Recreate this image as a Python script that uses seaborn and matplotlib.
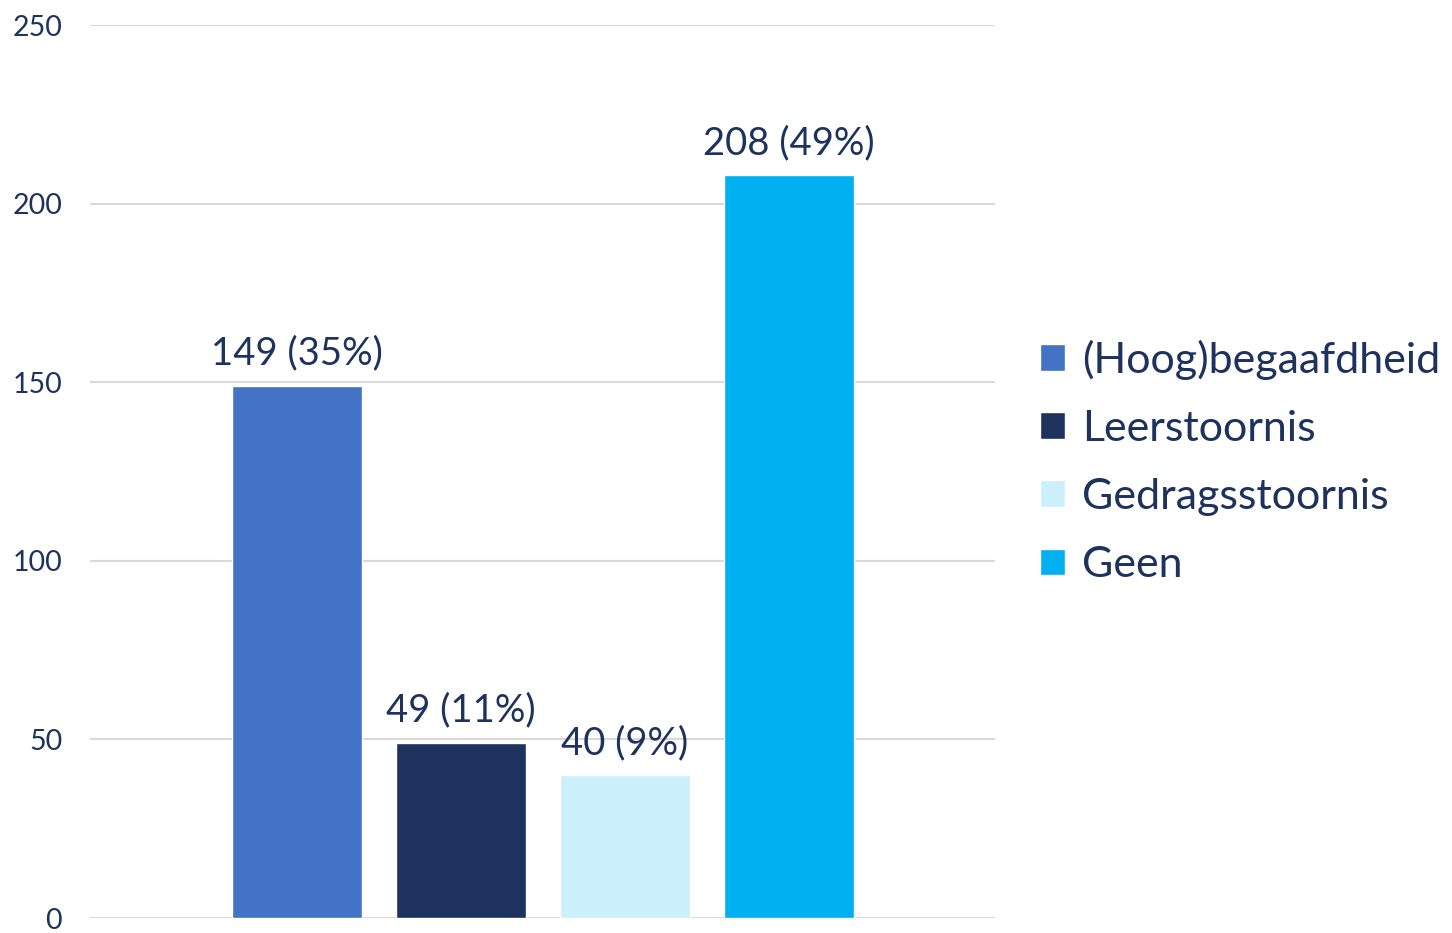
import pandas as pd
import matplotlib.pyplot as plt
import seaborn as sns
from matplotlib.patches import Patch

categorieen = ['(Hoog)begaafdheid', 'Leerstoornis', 'Gedragsstoornis', 'Geen']
aantallen = [149, 49, 40, 208]
percentages = ['35%', '11%', '9%', '49%']
kleuren = ['#4472C4', '#1E325E', '#CCEFFC', '#00B0F0']
tekstkleur = '#1E325E'

df = pd.DataFrame({'Categorie': categorieen, 'Aantal': aantallen})

sns.set_style('white')
plt.rcParams['font.family'] = ['Lato', 'DejaVu Sans']

fig = plt.figure(figsize=(14.52, 9.33), dpi=100)
ax = fig.add_axes([0.062, 0.016, 0.623, 0.957])

sns.barplot(data=df, x='Categorie', y='Aantal', hue='Categorie',
            palette=kleuren, dodge=False, width=0.793, ax=ax,
            legend=False, saturation=1)

for i, (n, p) in enumerate(zip(aantallen, percentages)):
    ax.text(i, n + 4, f'{n} ({p})', ha='center', va='bottom',
            fontsize=27.5, color=tekstkleur)

ax.set_ylim(0, 250)
ax.set_xlim(-1.262, 4.256)
ax.set_yticks(range(0, 251, 50))
ax.grid(axis='y', color='#D9D9D9', linewidth=1.5)
ax.set_axisbelow(True)
ax.set_xticks([])
ax.set_xlabel('')
ax.set_ylabel('')
ax.tick_params(axis='y', labelsize=20.5, labelcolor=tekstkleur, length=0, pad=20)
for s in ax.spines.values():
    s.set_visible(False)

handles = [Patch(facecolor=k, label=c) for k, c in zip(kleuren, categorieen)]
fig.legend(handles=handles, loc='center left', bbox_to_anchor=(0.716, 0.505),
           frameon=False, fontsize=31, labelcolor=tekstkleur,
           handlelength=0.58, handleheight=0.58, handletextpad=0.4,
           labelspacing=0.7, borderaxespad=0, borderpad=0)

plt.savefig('out.png')
